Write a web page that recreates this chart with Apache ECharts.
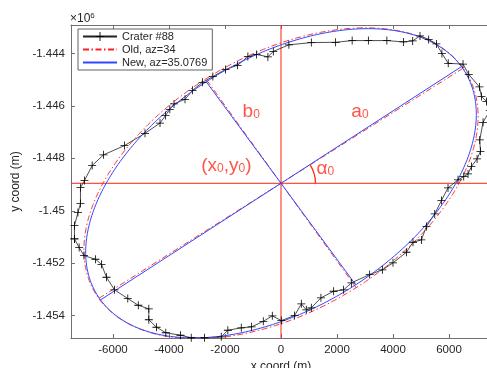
<!DOCTYPE html>
<html><head><meta charset="utf-8">
<script src="https://cdn.jsdelivr.net/npm/echarts@6/dist/echarts.min.js"></script>
<style>html,body{margin:0;padding:0;background:#fff}#c{width:487px;height:368px}</style>
</head><body><div id="c"></div>
<script>
// Crater rim trace (m)
const craterX = [-7377,-7377,-7252,-7162,-7162,-7019,-6744,-6340,-5590,-4857,-4321,-4124,-3971,-3821,-3428,-3159,-2802,-2434,-1980,-1551,-1183,-872,-468,-275,282,1083,1951,2541,3120,3781,4371,4703,4964,5275,5550,5747,5972,6501,6705,7087,7159,7337,7455,7216,7098,7123,7002,6801,6680,6526,6322,5965,5729,5490,5193,5014,4714,4478,3999,3620,3167,2513,2237,1880,1426,1083,904,726,486,11,-311,-633,-1051,-1419,-1898,-2134,-2731,-3206,-3588,-4114,-4446,-4721,-4721,-5097,-5472,-5947,-6233,-6412,-6626,-7037,-7209,-7377];
const craterY = [-1451072,-1450565,-1450069,-1449726,-1449117,-1448850,-1448278,-1447870,-1447516,-1447047,-1446659,-1446373,-1446133,-1445927,-1445752,-1445409,-1445104,-1444886,-1444612,-1444456,-1444124,-1444040,-1444136,-1443926,-1443675,-1443591,-1443579,-1443514,-1443514,-1443514,-1443564,-1443526,-1443335,-1443469,-1443640,-1444002,-1444380,-1444410,-1444803,-1445279,-1445641,-1445832,-1446182,-1446628,-1447299,-1447733,-1448023,-1448316,-1448595,-1448697,-1448823,-1449128,-1449612,-1450119,-1450603,-1451110,-1451201,-1451582,-1451986,-1452253,-1452432,-1452749,-1453015,-1453069,-1453320,-1453701,-1453778,-1453549,-1453995,-1454185,-1454006,-1454216,-1454425,-1454463,-1454555,-1454806,-1454840,-1454840,-1454745,-1454650,-1454441,-1454155,-1453739,-1453602,-1453347,-1453015,-1452535,-1452040,-1451849,-1451708,-1451403,-1451072];

// Fitted ellipses: [old, new]
const ellipseNames = ['Old, az=34', 'New, az=35.0769'];
const ellipseA = [7850, 7830];
const ellipseB = [4800, 4700];
const ellipseAngle = [34.0, 34.6];
const centerX = 0;
const centerY = -1448953;

// Axes
const xRange = [-7500, 7500];
const yRange = [-1454850, -1442920];
const xTicks = [-6000, -4000, -2000, 0, 2000, 4000, 6000];
const yTicks = [-1454000, -1452000, -1450000, -1448000, -1446000, -1444000];

// Annotations
const annoText = ['{m|b}{s|0}', '{m|a}{s|0}', '{m|(x}{s|0}{m|,y}{s|0}{m|)}', '{m|α}{s|0}'];
const annoX = [-1372, 2513, -1051, 1272];
const annoY = [-1446194, -1446194, -1448252, -1448366];
const annoAlign = ['left', 'left', 'right', 'left'];

const FONT = 'Liberation Sans, Arial, Helvetica, sans-serif';
const TXT = '#262626';

function ellipsePoints(k) {
  const a = ellipseA[k], b = ellipseB[k], th = ellipseAngle[k] * Math.PI / 180;
  const pts = [];
  for (let i = 0; i <= 360; i++) {
    const t = i * Math.PI / 180;
    const ex = a * Math.cos(t), ey = b * Math.sin(t);
    pts.push([centerX + ex * Math.cos(th) - ey * Math.sin(th), centerY + ex * Math.sin(th) + ey * Math.cos(th)]);
  }
  return pts;
}
function axisLines(k) {
  const a = ellipseA[k], b = ellipseB[k], th = ellipseAngle[k] * Math.PI / 180;
  const ca = Math.cos(th), sa = Math.sin(th);
  return {
    aLine: [[centerX - a * ca, centerY - a * sa], [centerX + a * ca, centerY + a * sa]],
    bLine: [[centerX + b * sa, centerY - b * ca], [centerX - b * sa, centerY + b * ca]]
  };
}

const ellStyles = [
  { color: '#ff2020', width: 0.9, type: [6, 2.5, 1.5, 2.5] },
  { color: '#3048ff', width: 1, type: 'solid' }
];

const chart = echarts.init(document.getElementById('c'), null, { renderer: 'canvas' });

const series = [];
// crosshair at centre
series.push({
  name: 'crossV', type: 'line', data: [[centerX, yRange[0]], [centerX, yRange[1]]], showSymbol: false, symbol: 'none',
  lineStyle: { color: '#ff2010', width: 1 }, silent: true, z: 2
});
series.push({
  name: 'crossH', type: 'line', data: [[xRange[0], centerY], [xRange[1], centerY]], showSymbol: false, symbol: 'none',
  lineStyle: { color: '#ff2010', width: 1 }, silent: true, z: 2
});
series.push({
  name: 'Crater #88', type: 'line', z: 4,
  data: craterX.map((x, i) => [x, craterY[i]]),
  symbol: 'path://M4.5,0h1v4.5h4.5v1h-4.5v4.5h-1v-4.5h-4.5v-1h4.5z',
  symbolSize: 8, showSymbol: true,
  itemStyle: { color: '#000' },
  lineStyle: { color: '#222', width: 0.8 },
  emphasis: { disabled: true }, silent: true
});
for (let k = 0; k < 2; k++) {
  const ax = axisLines(k);
  const ls = { color: ellStyles[k].color, width: ellStyles[k].width, type: ellStyles[k].type };
  series.push({ name: ellipseNames[k], type: 'line', data: ellipsePoints(k), showSymbol: false, symbol: 'none', lineStyle: ls, itemStyle: { color: ellStyles[k].color }, z: 3 + k, silent: true });
  series.push({ name: ellipseNames[k] + '_a', type: 'line', data: ax.aLine, showSymbol: false, symbol: 'none', lineStyle: ls, z: 3 + k, silent: true });
  series.push({ name: ellipseNames[k] + '_b', type: 'line', data: ax.bLine, showSymbol: false, symbol: 'none', lineStyle: ls, z: 3 + k, silent: true });
}
// annotations
series.push({
  name: 'anno', type: 'scatter', symbolSize: 0, silent: true, z: 6,
  data: annoX.map((x, i) => ({
    value: [x, annoY[i]],
    label: { show: true, formatter: annoText[i], position: [0, 0], align: annoAlign[i], verticalAlign: 'middle' }
  })),
  label: {
    show: true, color: '#ff1a0a',
    rich: {
      m: { fontSize: 19, lineHeight: 20, color: '#ff2a1a', fontFamily: FONT, verticalAlign: 'bottom' },
      s: { fontSize: 12, lineHeight: 12, color: '#ff2a1a', fontFamily: FONT, verticalAlign: 'bottom' }
    }
  }
});

const tickFmt = (v) => (Math.abs(v % 2000) < 1e-6 ? String(v) : '');

chart.setOption({
  animation: false,
  backgroundColor: '#fff',
  textStyle: { fontFamily: FONT },
  grid: { left: 71, top: 25, width: 420, height: 313, containLabel: false, outerBoundsMode: 'none' },
  legend: {
    data: [
      { name: 'Crater #88' },
      { name: ellipseNames[0], itemStyle: { opacity: 0 } },
      { name: ellipseNames[1], itemStyle: { opacity: 0 } }
    ],
    orient: 'vertical', left: 78, top: 29,
    itemWidth: 34, itemHeight: 11, itemGap: 2,
    padding: [2, 5, 2, 4],
    borderColor: '#3a3a3a', borderWidth: 0.8, backgroundColor: '#fff',
    textStyle: { fontSize: 11, color: TXT, fontFamily: FONT },
    selectedMode: false
  },
  xAxis: [{
    type: 'value', min: xRange[0], max: xRange[1], minInterval: 2000, maxInterval: 2000, splitNumber: 7,
    position: 'bottom',
    name: 'x coord (m)', nameLocation: 'middle', nameGap: 18,
    nameTextStyle: { fontSize: 12, color: TXT, fontFamily: FONT },
    axisLine: { show: true, onZero: false, lineStyle: { color: '#707070', width: 1 } },
    axisTick: { show: true, inside: true, length: 4, lineStyle: { color: '#707070' } },
    axisLabel: { show: true, fontSize: 11.5, color: TXT, margin: 6, formatter: tickFmt, fontFamily: FONT },
    splitLine: { show: false }
  }, {
    type: 'value', min: xRange[0], max: xRange[1], minInterval: 2000, maxInterval: 2000, splitNumber: 7,
    position: 'top',
    axisLine: { show: true, onZero: false, lineStyle: { color: '#707070', width: 1 } },
    axisTick: { show: true, inside: true, length: 4, lineStyle: { color: '#707070' } },
    axisLabel: { show: false },
    splitLine: { show: false }
  }],
  yAxis: [{
    type: 'value', min: yRange[0], max: yRange[1], minInterval: 2000, maxInterval: 2000, splitNumber: 6,
    position: 'left',
    name: 'y coord (m)', nameLocation: 'middle', nameGap: 41,
    nameTextStyle: { fontSize: 12, color: TXT, fontFamily: FONT },
    axisLine: { show: true, onZero: false, lineStyle: { color: '#707070', width: 1 } },
    axisTick: { show: true, inside: true, length: 4, lineStyle: { color: '#707070' } },
    axisLabel: {
      show: true, fontSize: 11.5, color: TXT, margin: 6, fontFamily: FONT,
      formatter: (v) => (Math.abs(v % 2000) < 1e-6 ? String(parseFloat((v / 1e6).toFixed(3))) : '')
    },
    splitLine: { show: false }
  }],
  series: series
});

// angle arc and exponent label
(function () {
  const k = 1;
  const th = ellipseAngle[k] * Math.PI / 180;
  const c = chart.convertToPixel({ seriesIndex: 2 }, [centerX, centerY]);
  const e = chart.convertToPixel({ seriesIndex: 2 }, [centerX + ellipseA[k] * Math.cos(th), centerY + ellipseA[k] * Math.sin(th)]);
  const ang = Math.atan2(c[1] - e[1], e[0] - c[0]);
  chart.setOption({
    graphic: [
      {
        type: 'arc', silent: true, z: 10,
        shape: { cx: c[0], cy: c[1], r: 34.5, startAngle: -ang, endAngle: 0, clockwise: true },
        style: { stroke: '#ff2a1a', fill: null, lineWidth: 1.3 }
      },
      {
        type: 'text', left: 70, top: 12, silent: true,
        style: {
          text: '{b|×10}{s|6}',
          rich: {
            b: { fontSize: 12, lineHeight: 13, fill: TXT, fontFamily: FONT, verticalAlign: 'bottom' },
            s: { fontSize: 8, lineHeight: 8, fill: TXT, fontFamily: FONT, verticalAlign: 'top' }
          }
        }
      }
    ]
  });
})();
</script>
</body></html>
